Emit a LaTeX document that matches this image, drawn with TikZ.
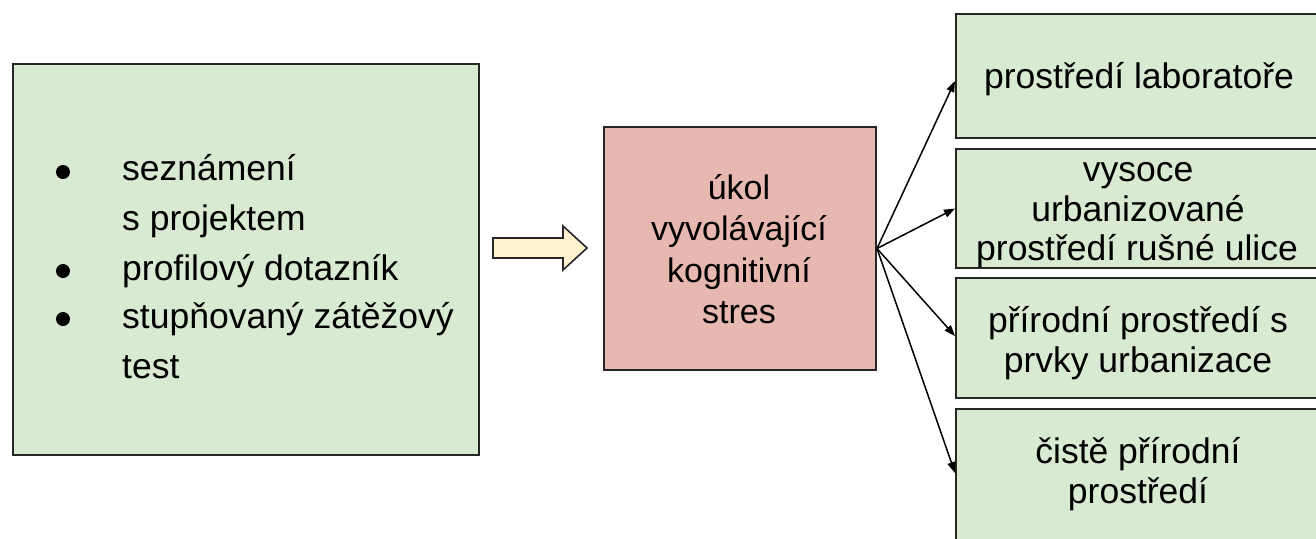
\documentclass[tikz,border=0pt]{standalone}
\usepackage{fontspec}
\setmainfont{Liberation Sans}
\usetikzlibrary{arrows.meta,calc}
\definecolor{boxgreen}{HTML}{D9EAD3}
\definecolor{boxred}{HTML}{E6B8AF}
\definecolor{arrowyellow}{HTML}{FFF2CC}
\begin{document}
\begin{tikzpicture}[x=1pt,y=-1pt,
  box/.style={draw=black!85, line width=2pt, inner sep=0pt, anchor=north west},
  gtxt/.style={font=\fontsize{35.5}{42}\selectfont, anchor=base, inner sep=0pt},
  ltxt/.style={font=\fontsize{35.5}{42}\selectfont, anchor=base west, inner sep=0pt},
  rtxt/.style={font=\fontsize{34}{41}\selectfont, anchor=base, inner sep=0pt},
  bulletdot/.style={circle, fill=black, minimum size=14pt, inner sep=0pt},
  conn/.style={draw=black, line width=1.5pt, -{Triangle[length=11pt,width=8pt]}}]
\useasboundingbox (0,0) rectangle (1316,538);
% boxes
\node[box, fill=boxgreen, minimum width=466pt, minimum height=391pt] (left) at (11.5,63) {};
\node[box, fill=boxred, minimum width=272pt, minimum height=243pt] (red) at (603,126) {};
\node[box, fill=boxgreen, minimum width=400pt, minimum height=124pt] (g1) at (955,13) {};
\node[box, fill=boxgreen, minimum width=400pt, minimum height=119pt] (g2) at (955,148) {};
\node[box, fill=boxgreen, minimum width=400pt, minimum height=120pt] (g3) at (955,277) {};
\node[box, fill=boxgreen, minimum width=400pt, minimum height=160pt] (g4) at (955,408) {};
% left list
\node[bulletdot] (b1) at (63,172) {};
\node[bulletdot] (b2) at (63,271) {};
\node[bulletdot] (b3) at (63,319) {};
\node[ltxt] (l1) at (122,180) {seznámení};
\node[ltxt] (l2) at (122,230) {s projektem};
\node[ltxt] (l3) at (122,280) {profilový dotazník};
\node[ltxt] (l4) at (122,328) {stupňovaný zátěžový};
\node[ltxt] (l5) at (122,378) {test};
% red box text
\node[rtxt] (r1) at (739,199) {úkol};
\node[rtxt] (r2) at (739,240.5) {vyvolávající};
\node[rtxt] (r3) at (739,282) {kognitivní};
\node[rtxt] (r4) at (739,323.5) {stres};
% right texts
\node[gtxt] (a1) at (1139,88) {prostředí laboratoře};
\node[gtxt] (c1) at (1138,181.5) {vysoce};
\node[gtxt] (c2) at (1138,221) {urbanizované};
\node[gtxt] (c3) at (1137,260.5) {prostředí rušné ulice};
\node[gtxt] (d1) at (1138,332) {přírodní prostředí s};
\node[gtxt] (d2) at (1138,372) {prvky urbanizace};
\node[gtxt] (e1) at (1138,463) {čistě přírodní};
\node[gtxt] (e2) at (1138,503) {prostředí};
% block arrow
\draw[fill=arrowyellow, draw=black!85, line width=1.6pt, line join=miter]
  (493,238) -- (563,238) -- (563,226) -- (587,248) -- (563,270) -- (563,258) -- (493,258) -- cycle;
% connectors
\draw[conn] (red.east) -- ($(g1.west)+(0,5)$);
\draw[conn] (red.east) -- (g2.west);
\draw[conn] (red.east) -- ($(g3.west)+(0,-2)$);
\draw[conn] (red.east) -- ($(g4.west)+(0,-16)$);
\end{tikzpicture}
\end{document}
